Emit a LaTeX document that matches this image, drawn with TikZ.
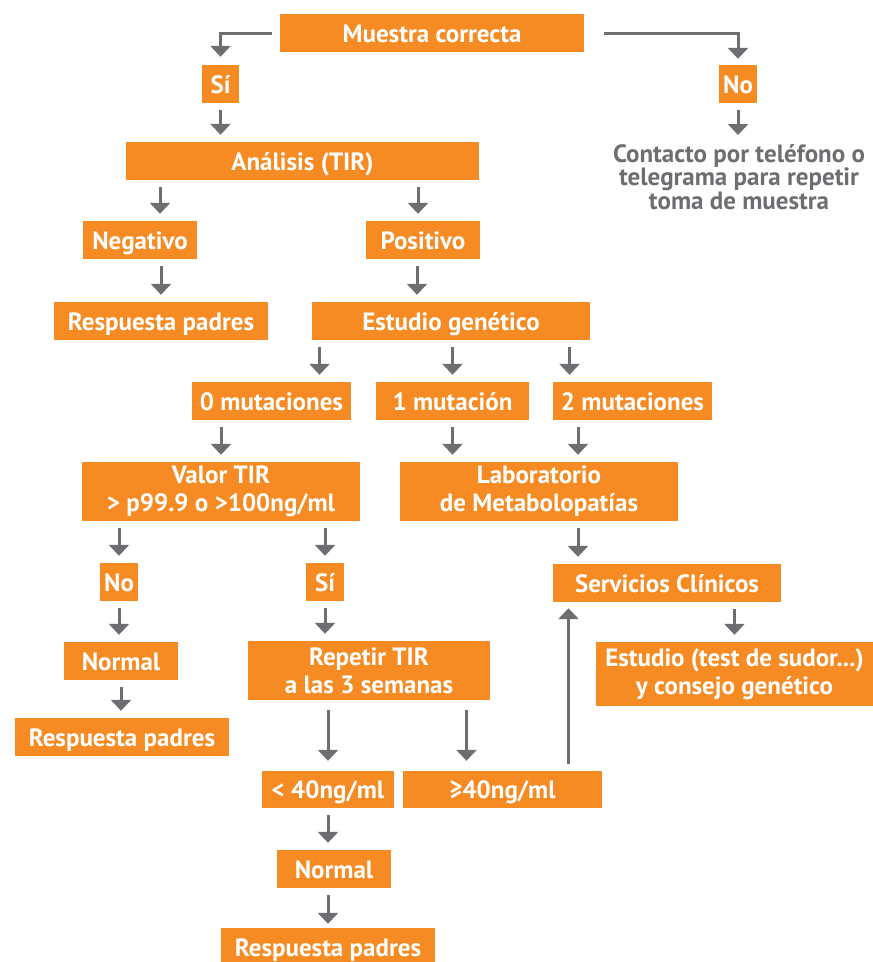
\documentclass[tikz,border=0pt]{standalone}
\usepackage{fontspec}
\setmainfont{PT Sans}
\usetikzlibrary{arrows.meta, calc, positioning}
\definecolor{colorBox}{RGB}{245, 139, 34}
\definecolor{colorArrow}{RGB}{109, 110, 113}
\tikzstyle{base} = [rectangle, fill=colorBox, text=white, inner sep=0pt, align=center, font=\fontsize{25}{28}\selectfont\bfseries]
\tikzstyle{box} = [base, minimum height=38pt, text height=18pt, text depth=0pt]
\tikzstyle{tallbox} = [base, minimum height=59pt]
\tikzstyle{note} = [inner sep=0pt, align=center, text=colorArrow, font=\fontsize{25}{22.5}\selectfont\bfseries]
\tikzstyle{arrow} = [draw=colorArrow, line width=3pt, -{Triangle[length=11pt, width=20pt]}, shorten <=7pt, shorten >=7pt]
\tikzstyle{longarrow} = [arrow, shorten <=10pt, shorten >=10pt]

\begin{document}
\begin{tikzpicture}[x=1pt, y=-1pt]

		\useasboundingbox (0,0) rectangle (873,962);

		% start
		\node (muestra)[box, minimum width=304pt] at (432,33) {Muestra correcta};
		\node (si1)[box, minimum width=37pt] at (220.5,84) {Sí};
		\node (no1)[box, minimum width=38pt] at (738,84) {No};
		\node (contacto)[note, anchor=north] at (739,144) {Contacto por teléfono o\\telegrama para repetir\\toma de muestra};

		% TIR
		\node (analisis)[box, minimum width=353pt] at (302.5,161) {Análisis (TIR)};
		\node (negativo)[box, minimum width=114pt] at (140,240) {Negativo};
		\node (positivo)[box, minimum width=114pt] at (423,240) {Positivo};
		\node (respuesta1)[box, minimum width=214pt] at (161,321) {Respuesta padres};
		\node (estudio)[box, minimum width=278pt] at (451,321) {Estudio genético};

		% mutaciones
		\node (mut0)[box, minimum width=159pt] at (271.5,401) {0 mutaciones};
		\node (mut1)[box, minimum width=153pt] at (452.5,401) {1 mutación};
		\node (mut2)[box, minimum width=159pt] at (632.5,401) {2 mutaciones};
		\node (valor)[tallbox, minimum width=278pt] at (221,491.5) {Valor TIR\\> p99.9 o >100ng/ml};
		\node (lab)[tallbox, minimum width=278pt] at (539,491.5) {Laboratorio\\de Metabolopatías};

		\node (no2)[box, minimum width=38pt] at (119,582) {No};
		\node (si2)[box, minimum width=38pt] at (325,582) {Sí};
		\node (serv)[box, minimum width=228pt] at (667,583) {Servicios Clínicos};
		\node (normal1)[box, minimum width=114pt] at (121,661) {Normal};
		\node (repetir)[tallbox, minimum width=242pt] at (369,670.5) {Repetir TIR\\a las 3 semanas};
		\node (test)[tallbox, minimum width=277pt, minimum height=64pt] at (734.5,674) {Estudio (test de sudor...)\\y consejo genético};
		\node (respuesta2)[box, minimum width=214pt] at (122,737) {Respuesta padres};

		% end
		\node (menor)[box, minimum width=132pt, minimum height=37pt] at (328,789.5) {< 40ng/ml};
		\node (mayor)[box, minimum width=199pt, minimum height=37pt] at (502.5,789.5) {≥40ng/ml};
		\node (normal2)[box, minimum width=114pt] at (334,869) {Normal};
		\node (respuesta3)[box, minimum width=214pt] at (328,947) {Respuesta padres};

		% lines and arrows
		\draw[arrow, shorten <=8pt, shorten >=8pt] (muestra.west) -| (si1.north);
		\draw[arrow, shorten <=20pt, shorten >=6pt] (muestra.east) -| (no1.north);
		\draw[arrow] (si1.south) -- (si1.south |- analisis.north);
		\draw[arrow, shorten >=9pt] (no1.south) -- (no1.south |- contacto.north);

		\draw[arrow] ($(analisis.south -| negativo.north)+(20,0)$) -- ($(negativo.north)+(20,0)$);
		\draw[arrow] ($(analisis.south -| positivo.north)+(-5,0)$) -- ($(positivo.north)+(-5,0)$);
		\draw[arrow] (negativo.south -| respuesta1.north) -- (respuesta1.north);
		\draw[arrow] ($(positivo.south)+(-6,0)$) -- ($(positivo.south |- estudio.north)+(-6,0)$);

		\draw[arrow] ($(estudio.south -| mut0.north)+(48,0)$) -- ($(mut0.north)+(48,0)$);
		\draw[arrow] (estudio.south -| mut1.north) -- (mut1.north);
		\draw[arrow] ($(estudio.south -| mut2.north)+(-63,0)$) -- ($(mut2.north)+(-63,0)$);
		\draw[arrow] (mut0.south -| valor.north) -- (valor.north);
		\draw[arrow] (mut1.south) -- (mut1.south |- lab.north);
		\draw[arrow] ($(mut2.south -| lab.north)+(39,0)$) -- ($(lab.north)+(39,0)$);

		\draw[arrow] (valor.south -| no2.north) -- (no2.north);
		\draw[arrow] (valor.south -| si2.north) -- (si2.north);
		\draw[arrow] ($(lab.south)+(39,0)$) -- ($(lab.south |- serv.north)+(39,0)$);
		\draw[arrow] (no2.south) -- (no2.south |- normal1.north);
		\draw[arrow] (si2.south) -- (si2.south |- repetir.north);
		\draw[arrow] (serv.south -| test.north) -- (test.north);
		\draw[arrow] (normal1.south) -- (normal1.south |- respuesta2.north);

		\draw[longarrow] (repetir.south -| menor.north) -- (menor.north);
		\draw[longarrow] ($(repetir.south -| mayor.north)+(-36,0)$) -- ($(mayor.north)+(-36,0)$);
		\draw[arrow, shorten >=6pt] ($(mayor.north)+(66,0)$) -- ($(mayor.north |- serv.south)+(66,0)$);
		\draw[arrow] (menor.south) -- (menor.south |- normal2.north);
		\draw[arrow, shorten >=4pt] (normal2.south -| respuesta3.north) -- (respuesta3.north);

	\end{tikzpicture}
\end{document}
